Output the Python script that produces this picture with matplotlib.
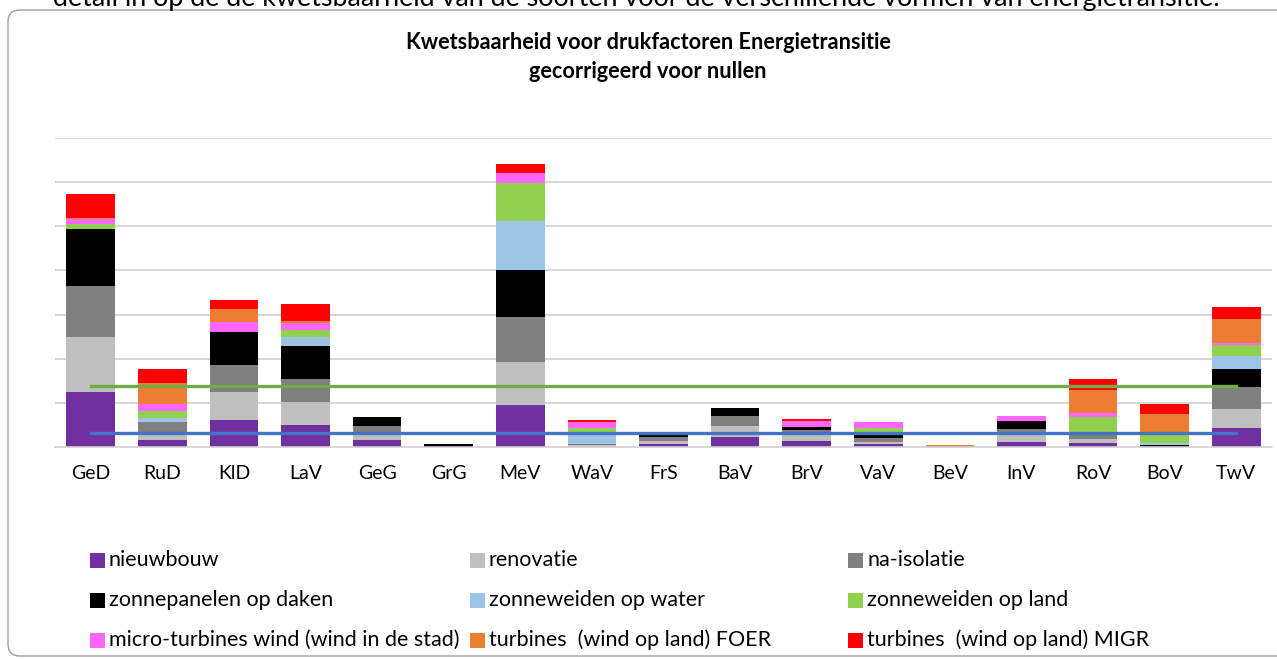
import numpy as np
import matplotlib
matplotlib.use('Agg')
import matplotlib.pyplot as plt
from matplotlib.patches import Rectangle, FancyBboxPatch
from matplotlib.transforms import IdentityTransform

# soortgroepen op de x-as
soorten = ['GeD', 'RuD', 'KlD', 'LaV', 'GeG', 'GrG', 'MeV', 'WaV', 'FrS',
           'BaV', 'BrV', 'VaV', 'BeV', 'InV', 'RoV', 'BoV', 'TwV']

# drukfactoren (van onder naar boven gestapeld)
nieuwbouw     = [1.25, 0.15, 0.61, 0.50, 0.15, 0.00, 0.94, 0.00, 0.06, 0.21, 0.12, 0.06, 0.00, 0.11, 0.08, 0.00, 0.42]
renovatie     = [1.23, 0.14, 0.63, 0.52, 0.15, 0.00, 0.99, 0.03, 0.07, 0.26, 0.14, 0.05, 0.00, 0.17, 0.09, 0.00, 0.44]
na_isolatie   = [1.17, 0.28, 0.62, 0.51, 0.18, 0.00, 1.01, 0.02, 0.08, 0.23, 0.11, 0.08, 0.00, 0.13, 0.11, 0.00, 0.49]
zon_daken     = [1.29, 0.00, 0.75, 0.75, 0.19, 0.07, 1.07, 0.02, 0.08, 0.18, 0.08, 0.10, 0.00, 0.18, 0.02, 0.03, 0.42]
zon_water     = [0.00, 0.08, 0.00, 0.21, 0.00, 0.00, 1.12, 0.27, 0.00, 0.00, 0.00, 0.00, 0.00, 0.00, 0.00, 0.05, 0.28]
zon_land      = [0.11, 0.15, 0.00, 0.16, 0.00, 0.00, 0.85, 0.08, 0.00, 0.00, 0.00, 0.13, 0.00, 0.00, 0.37, 0.21, 0.25]
micro_wind    = [0.12, 0.18, 0.21, 0.15, 0.00, 0.00, 0.23, 0.13, 0.00, 0.00, 0.13, 0.15, 0.00, 0.10, 0.10, 0.00, 0.05]
wind_foer     = [0.02, 0.47, 0.31, 0.06, 0.00, 0.00, 0.00, 0.00, 0.00, 0.00, 0.00, 0.00, 0.04, 0.00, 0.52, 0.46, 0.55]
wind_migr     = [0.54, 0.32, 0.21, 0.37, 0.00, 0.00, 0.21, 0.06, 0.00, 0.00, 0.05, 0.00, 0.00, 0.00, 0.25, 0.21, 0.27]

# twee horizontale lijnen
lijn_groen = [1.38, 1.38, 1.38, 1.38, 1.38, 1.38, 1.38, 1.38, 1.38, 1.38, 1.38, 1.38, 1.38, 1.38, 1.38, 1.38, 1.38]
lijn_blauw = [0.32, 0.32, 0.32, 0.32, 0.32, 0.32, 0.32, 0.32, 0.32, 0.32, 0.32, 0.32, 0.32, 0.32, 0.32, 0.32, 0.32]

reeksen = [
    ('nieuwbouw', nieuwbouw, '#7030A0'),
    ('renovatie', renovatie, '#BFBFBF'),
    ('na-isolatie', na_isolatie, '#808080'),
    ('zonnepanelen op daken', zon_daken, '#000000'),
    ('zonneweiden op water', zon_water, '#9DC3E6'),
    ('zonneweiden op land', zon_land, '#92D050'),
    ('micro-turbines wind (wind in de stad)', micro_wind, '#FF66FF'),
    ('turbines  (wind op land) FOER', wind_foer, '#ED7D31'),
    ('turbines  (wind op land) MIGR', wind_migr, '#FF0000'),
]

plt.rcParams['font.family'] = ['Lato', 'DejaVu Sans']

W, H = 1277, 659
fig = plt.figure(figsize=(W / 100, H / 100), dpi=100)

# kader rond de grafiek
kader = FancyBboxPatch((8, 3), 1290, 646, boxstyle='round,pad=0,rounding_size=12',
                       transform=IdentityTransform(), facecolor='none',
                       edgecolor='#A0A0A0', linewidth=1.0)
fig.patches.append(kader)

# afgesneden tekst boven de grafiek
fig.text(53 / W, 1 - 6 / H,
         'detail in op de de kwetsbaarheid van de soorten voor de verschillende vormen van energietransitie.',
         fontsize=19.4, ha='left', va='baseline')

ax = fig.add_axes([55 / W, 1 - 446.7 / H, (1272 - 55) / W, (446.7 - 138.3) / H])
ax.patch.set_alpha(0)

x = np.arange(len(soorten))
bodem = np.zeros(len(soorten))
for naam, waarden, kleur in reeksen:
    ax.bar(x, waarden, 0.68, bottom=bodem, color=kleur, linewidth=0)
    bodem = bodem + np.array(waarden)

ax.plot(x, lijn_groen, color='#70AD47', lw=2.4)
ax.plot(x, lijn_blauw, color='#4472C4', lw=2.4)

ax.set_xlim(-0.5, len(soorten) - 0.5)
ax.set_ylim(0, 7)
ax.set_yticks(range(1, 8))
ax.set_yticklabels([])
ax.yaxis.grid(True, color='#D0D0D0', lw=1.2)
ax.set_axisbelow(True)
ax.tick_params(axis='y', length=0)
ax.set_xticks(x)
ax.set_xticklabels(soorten, fontsize=14)
ax.tick_params(axis='x', length=0, pad=13)
for s in ['left', 'right', 'top']:
    ax.spines[s].set_visible(False)
ax.spines['bottom'].set_color('#D0D0D0')
ax.spines['bottom'].set_linewidth(1.2)

# titel
fig.text(648 / W, 1 - 57 / H,
         'Kwetsbaarheid voor drukfactoren Energietransitie\ngecorrigeerd voor nullen',
         fontsize=15.6, fontweight='bold', ha='center', va='center', linespacing=1.5)

# legenda, per rij gevuld
kol_x = [90, 470, 848]
rij_y = [560, 600, 640]
for i, (naam, waarden, kleur) in enumerate(reeksen):
    px = kol_x[i % 3]
    py = rij_y[i // 3]
    fig.patches.append(Rectangle((px / W, 1 - (py + 7.5) / H), 15 / W, 15 / H,
                                 transform=fig.transFigure, facecolor=kleur, linewidth=0))
    fig.text((px + 19) / W, 1 - py / H, naam, fontsize=15.5, ha='left', va='center')

fig.savefig('out.png', dpi=100)
